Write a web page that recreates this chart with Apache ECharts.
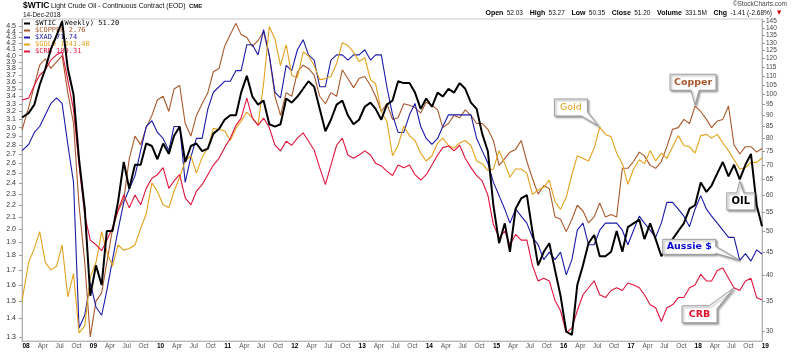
<!DOCTYPE html>
<html><head><meta charset="utf-8">
<script src="https://cdn.jsdelivr.net/npm/echarts@6/dist/echarts.min.js"></script>
<style>html,body{margin:0;padding:0;background:#fff}#c{width:800px;height:352px}</style>
</head><body><div id="c"></div>
<script>
const dates = ['2007-12-10',
'2008-01-15','2008-02-15','2008-03-15','2008-04-15','2008-05-15','2008-06-15','2008-07-15','2008-08-15','2008-09-15','2008-10-15','2008-11-15','2008-12-15',
'2009-01-15','2009-02-15','2009-03-15','2009-04-15','2009-05-15','2009-06-15','2009-07-15','2009-08-15','2009-09-15','2009-10-15','2009-11-15','2009-12-15',
'2010-01-15','2010-02-15','2010-03-15','2010-04-15','2010-05-15','2010-06-15','2010-07-15','2010-08-15','2010-09-15','2010-10-15','2010-11-15','2010-12-15',
'2011-01-15','2011-02-15','2011-03-15','2011-04-15','2011-05-15','2011-06-15','2011-07-15','2011-08-15','2011-09-15','2011-10-15','2011-11-15','2011-12-15',
'2012-01-15','2012-02-15','2012-03-15','2012-04-15','2012-05-15','2012-06-15','2012-07-15','2012-08-15','2012-09-15','2012-10-15','2012-11-15','2012-12-15',
'2013-01-15','2013-02-15','2013-03-15','2013-04-15','2013-05-15','2013-06-15','2013-07-15','2013-08-15','2013-09-15','2013-10-15','2013-11-15','2013-12-15',
'2014-01-15','2014-02-15','2014-03-15','2014-04-15','2014-05-15','2014-06-15','2014-07-15','2014-08-15','2014-09-15','2014-10-15','2014-11-15','2014-12-15',
'2015-01-15','2015-02-15','2015-03-15','2015-04-15','2015-05-15','2015-06-15','2015-07-15','2015-08-15','2015-09-15','2015-10-15','2015-11-15','2015-12-15',
'2016-01-15','2016-02-15','2016-03-15','2016-04-15','2016-05-15','2016-06-15','2016-07-15','2016-08-15','2016-09-15','2016-10-15','2016-11-15','2016-12-15',
'2017-01-15','2017-02-15','2017-03-15','2017-04-15','2017-05-15','2017-06-15','2017-07-15','2017-08-15','2017-09-15','2017-10-15','2017-11-15','2017-12-15',
'2018-01-15','2018-02-15','2018-03-15','2018-04-15','2018-05-15','2018-06-15','2018-07-15','2018-08-15','2018-09-15','2018-10-15','2018-11-15','2018-12-14'];

const wtic = [89,
 91,95,105,114,126,135,145,114,100,72,56,36,
 42,38,50,50,58,71,62,70,70,78,77,72,
 78,74,81,85,71,77,78,75,76,82,84,88,
 90,90,101,110,99,95,97,86,85,86,98,96,
 99,103,107,104,93,83,88,95,97,90,86,88,
 94,96,93,88,95,97,107,106,106,101,93,98,
 94,101,99,103,101,106,103,96,93,82,75,57,
 47,52,45,56,59,60,50,42,45,47,41,36,
 30,29.5,38,42,47,49,44,44,45,50,45,51,
 52,53,48,52,48,44,46,48,50,52,56,57,
 64,61,63,67,71,66,70,65,70,74,57,51.2];

const copper = [2.97,
 3.25,3.55,3.85,3.95,3.80,3.90,4.00,3.45,3.05,2.20,1.75,1.30,
 1.50,1.55,1.75,2.00,2.15,2.25,2.65,2.90,2.80,3.00,3.15,3.35,
 3.40,3.20,3.50,3.55,3.05,2.90,3.15,3.30,3.45,3.75,3.80,4.15,
 4.35,4.55,4.35,4.30,4.15,4.25,4.40,4.00,3.40,3.15,3.45,3.40,
 3.75,3.85,3.80,3.70,3.40,3.30,3.45,3.40,3.78,3.65,3.52,3.65,
 3.68,3.55,3.40,3.20,3.30,3.10,3.12,3.30,3.28,3.25,3.18,3.32,
 3.28,3.22,3.00,3.05,3.15,3.12,3.22,3.15,3.05,3.05,2.98,2.85,
 2.58,2.65,2.72,2.75,2.85,2.62,2.45,2.30,2.38,2.35,2.10,2.08,
 1.98,2.08,2.20,2.15,2.05,2.10,2.22,2.10,2.12,2.10,2.55,2.55,
 2.62,2.72,2.68,2.58,2.55,2.62,2.78,2.98,3.00,3.10,3.05,3.27,
 3.20,3.10,3.00,3.08,3.10,3.27,2.80,2.70,2.78,2.78,2.72,2.76];

const xad = [87,
 88,90,91,93,95,96,95,88,82,62.5,64,68,
 65,64,67,71,75,79,81,83,87,91,92,90,
 89,87,91,91,82,86,89,89,94,97,98,99,
 99,101,101,106,106,104,109,104,97,96,102,101,
 105,107,104,103,98,98,103,104,104,103,104,104,
 105,103,104,104,98,93,90,90,93,95,91,89,
 88,89,91,93,93,93,93,93,89,87,85,82,
 80,78,76,78,77,76,74,73,71,72,71,72,
 69,71,75,76,73,73,75,76,76,76,75,73,
 75,77,76,75,74,76,79,79,78,77,75.5,78,
 80,78,77,76,75,74,74,70.9,71.8,70.8,72.3,71.74];

const gold = [800,
 900,940,990,900,880,890,950,810,870,725,740,860,
 900,990,930,890,950,935,940,950,1000,1045,1150,1120,
 1075,1065,1120,1170,1230,1250,1185,1245,1280,1360,1355,1350,
 1310,1360,1390,1430,1405,1375,1560,1860,1790,1650,1760,1600,
 1590,1720,1700,1650,1580,1585,1595,1660,1770,1755,1720,1670,
 1690,1580,1560,1430,1390,1250,1290,1370,1330,1310,1260,1230,
 1250,1300,1320,1290,1280,1300,1310,1290,1230,1220,1195,1200,
 1270,1220,1170,1200,1200,1185,1110,1125,1135,1160,1085,1060,
 1100,1180,1250,1240,1230,1280,1365,1335,1325,1260,1220,1145,
 1200,1235,1220,1270,1230,1260,1240,1285,1330,1290,1285,1260,
 1330,1335,1320,1335,1300,1270,1235,1200,1205,1225,1225,1241.4];

const crb = [389,
 392,412,428,437,454,463,468,420,375,303,250,227,
 223,218,227,238,255,270,257,270,260,277,288,292,
 300,277,285,292,267,260,274,281,292,303,311,324,
 336,353,363,392,363,353,363,350,327,320,332,327,
 336,343,332,321,300,281,303,327,336,315,311,315,
 320,315,305,302,296,291,303,300,303,292,286,292,
 303,315,324,326,320,327,311,300,291,285,270,241,
 229,235,223,232,227,227,206,194,196,194,180,173,
 159,162,173,184,189,194,184,182,187,189,187,192.5,
 191,189,184,177,175,166,175,177,182,182,189,191,
 199,194,194,202,204,196,189,187,194,196,182,180.31];

const leftTicks = [1.3,1.4,1.5,1.6,1.7,1.8,1.9,2.0,2.1,2.2,2.3,2.4,2.5,2.6,2.7,2.8,2.9,3.0,3.1,3.2,3.3,3.4,3.5,3.6,3.7,3.8,3.9,4.0,4.1,4.2,4.3,4.4,4.5,4.6];
const rightTicks = [30,35,40,45,50,55,60,65,70,75,80,85,90,95,100,105,110,115,120,125,130,135,140,145];
const xTicks = [
'2008-01-01','2008-04-01','2008-07-01','2008-10-01','2009-01-01','2009-04-01','2009-07-01','2009-10-01',
'2010-01-01','2010-04-01','2010-07-01','2010-10-01','2011-01-01','2011-04-01','2011-07-01','2011-10-01',
'2012-01-01','2012-04-01','2012-07-01','2012-10-01','2013-01-01','2013-04-01','2013-07-01','2013-10-01',
'2014-01-01','2014-04-01','2014-07-01','2014-10-01','2015-01-01','2015-04-01','2015-07-01','2015-10-01',
'2016-01-01','2016-04-01','2016-07-01','2016-10-01','2017-01-01','2017-04-01','2017-07-01','2017-10-01',
'2018-01-01','2018-04-01','2018-07-01','2018-10-01'];
const lastXTick = '2019-01-01';

const FONT = '"Liberation Sans", Arial, sans-serif';
const C = {wtic:'#000000', copper:'#a9582c', xad:'#1a1aa8', gold:'#e2a21c', crb:'#e0143c'};
const names = ['$WTIC (Weekly)','$COPPER','$XAD','$GOLD','$CRB'];
const colorsByName = {'$WTIC (Weekly)':C.wtic,'$COPPER':C.copper,'$XAD':C.xad,'$GOLD':C.gold,'$CRB':C.crb};
const lastVals = {
  '$WTIC (Weekly)': wtic[wtic.length-1].toFixed(2),
  '$COPPER': copper[copper.length-1].toFixed(2),
  '$XAD': xad[xad.length-1].toFixed(2),
  '$GOLD': gold[gold.length-1].toFixed(2),
  '$CRB': crb[crb.length-1].toFixed(2)
};
const ts = s => Date.parse(s);
const pairs = arr => dates.map((d,i)=>[ts(d), arr[i]]);
const monthAbbr = ['','','','Apr','','','Jul','','','Oct','',''];

const chart = echarts.init(document.getElementById('c'), null, {renderer:'canvas', width:800, height:352});

function lineSeries(name, arr, yIdx, color, width, z){
  return {type:'line', name, yAxisIndex:yIdx, data:pairs(arr), showSymbol:false, symbol:'none',
    lineStyle:{color, width}, itemStyle:{color}, emphasis:{disabled:true}, z, silent:true};
}

const option = {
  animation:false,
  backgroundColor:'#ffffff',
  grid:{left:22, right:38, top:19, bottom:11, show:true, borderColor:'#c8c8c8', borderWidth:1, outerBoundsMode:'none', containLabel:false},
  legend:{
    show:true, orient:'vertical', left:22, top:19, padding:[1,2,1,2], itemGap:0, itemWidth:6, itemHeight:2,
    icon:'rect', selectedMode:false,
    textStyle:{fontFamily:'"DejaVu Sans Mono", monospace', fontSize:7, lineHeight:6.4},
    formatter: n => n + ' ' + lastVals[n],
    data: names.map(n => ({name:n, itemStyle:{color:colorsByName[n]}, textStyle:{color:colorsByName[n]}}))
  },
  xAxis:{
    type:'value', min:ts(dates[0]), max:ts(dates[dates.length-1]), scale:true,
    axisLine:{show:true, lineStyle:{color:'#b8b8b8', width:1}},
    axisTick:{show:false}, splitLine:{show:false},
    axisLabel:{
      customValues:xTicks.map(ts), hideOverlap:false, margin:2,
      fontFamily:FONT, fontSize:6.5, color:'#555',
      formatter:function(v){
        const d = new Date(+v); const m = d.getUTCMonth();
        if (m === 0) return '{y|' + String(d.getUTCFullYear()).slice(2) + '}';
        return monthAbbr[m];
      },
      rich:{y:{fontFamily:FONT, fontSize:6.5, fontWeight:'bold', color:'#000'}}
    }
  },
  yAxis:[
    {type:'log', position:'left', min:1.279, max:4.63,
     axisLine:{show:true, lineStyle:{color:'#b0b0b0'}},
     axisTick:{show:true, customValues:leftTicks, length:3, lineStyle:{color:'#999'}},
     axisLabel:{customValues:leftTicks, hideOverlap:false, margin:6, fontFamily:FONT, fontSize:7, color:'#333',
       formatter:v => (+v).toFixed(1)},
     splitLine:{show:false}},
    {type:'log', position:'right', min:28.6, max:146.8,
     axisLine:{show:true, lineStyle:{color:'#b0b0b0'}},
     axisTick:{show:true, customValues:rightTicks, length:3, lineStyle:{color:'#999'}},
     axisLabel:{customValues:rightTicks, hideOverlap:false, margin:4, fontFamily:FONT, fontSize:6.5, color:'#444',
       formatter:v => String(Math.round(+v))},
     splitLine:{show:false}},
    {type:'log', show:false, min:61.0, max:111.2, splitLine:{show:false}},
    {type:'log', show:false, min:707, max:1904, splitLine:{show:false}},
    {type:'log', show:false, min:154.0, max:531.4, splitLine:{show:false}}
  ],
  series:[
    lineSeries('$COPPER', copper, 0, C.copper, 1.1, 2),
    lineSeries('$XAD', xad, 2, C.xad, 1.1, 3),
    lineSeries('$GOLD', gold, 3, C.gold, 1.1, 4),
    lineSeries('$CRB', crb, 4, C.crb, 1.1, 5),
    lineSeries('$WTIC (Weekly)', wtic, 1, C.wtic, 2, 6)
  ]
};
chart.setOption(option);

function callout(seriesIndex, date, value, outline, box, text, color, font){
  const p = chart.convertToPixel({seriesIndex}, [ts(date), value]);
  const tx = p[0], ty = p[1];
  return [
    {type:'polygon', z:100, shape:{points: outline.map(q => [tx+q[0], ty+q[1]])},
     style:{fill:'#ffffff', stroke:'#9c9c9c', lineWidth:1, shadowBlur:2, shadowOffsetX:1.5, shadowOffsetY:1.5, shadowColor:'rgba(0,0,0,0.35)'}},
    {type:'text', z:101, x: tx+box[0]+box[2]/2, y: ty+box[1]+box[3]/2,
     style:{text, font, fill:color, align:'center', verticalAlign:'middle'}}
  ];
}
const BF = '"DejaVu Sans", sans-serif';
let g = [];
try {
g = g.concat(callout(0, '2017-12-15', 3.28,
  [[-25,-31],[21,-31],[21,-15],[4,-15],[0,0],[-4,-15],[-25,-15]], [-25,-31,46,16], 'Copper', C.copper, 'bold 9.5px ' + BF));
g = g.concat(callout(2, '2016-07-08', 1370,
  [[-44,-27],[-11,-27],[-11,-14],[0,0],[-17,-10],[-44,-10]], [-44,-27,33,17], 'Gold', C.gold, '9.5px ' + BF));
g = g.concat(callout(4, '2018-08-15', 64.5,
  [[-13,12],[-3,12],[0,0],[4,12],[15,12],[15,29],[-13,29]], [-13,12,28,17], 'OIL', '#000', 'bold 10px ' + BF));
g = g.concat(callout(1, '2018-08-15', 70.9,
  [[-77,-21],[-24,-21],[-24,-14],[0,0],[-24,-7],[-24,-6],[-77,-6]], [-77,-21,53,15], 'Aussie $', '#0b0bd0', 'bold 9.5px ' + BF));
g = g.concat(callout(3, '2018-07-15', 189,
  [[-52,18],[-25,18],[0,0],[-17,21],[-17,35],[-52,35]], [-52,18,35,17], 'CRB', '#e0102c', 'bold 9.5px ' + BF));
const x19 = chart.convertToPixel({xAxisIndex:0}, ts(lastXTick));
const yBottom = chart.convertToPixel({yAxisIndex:0}, 1.279);
g.push({type:'text', x:x19, y:yBottom+2, style:{text:String(new Date(ts(lastXTick)).getUTCFullYear()).slice(2), font:'bold 6.5px ' + FONT, fill:'#000', align:'center', verticalAlign:'top'}});
} catch(e) { console.error(e); }

g.push({type:'text', x:23, y:1, style:{text:'$WTIC', font:'bold 8.5px ' + FONT, fill:'#000'}});
g.push({type:'text', x:51, y:2.8, style:{text:'Light Crude Oil - Continuous Contract (EOD)', font:'6.8px ' + FONT, fill:'#111'}});
g.push({type:'text', x:189, y:3.6, style:{text:'CME', font:'bold 6px ' + FONT, fill:'#111'}});
g.push({type:'text', x:23, y:11.6, style:{text:'14-Dec-2018', font:'6.5px ' + FONT, fill:'#111'}});
g.push({type:'text', x:787, y:1, style:{text:'\u00A9StockCharts.com', font:'6.5px ' + FONT, fill:'#444', align:'right'}});
g.push({type:'text', x:772, y:12.8, style:{
  text:'{l|Open} {v|52.03}  {l|High} {v|53.27}  {l|Low} {v|50.35}  {l|Close} {v|51.20}  {l|Volume} {v|331.5M}  {l|Chg} {v|-1.41 (-2.68%)}',
  align:'right', verticalAlign:'middle',
  rich:{l:{font:'bold 7px ' + FONT, fill:'#000'}, v:{font:'6.5px ' + FONT, fill:'#111'}}}});
g.push({type:'text', x:777, y:12.8, style:{text:'\u25BC', font:'5.5px "DejaVu Sans"', fill:'#d00000', verticalAlign:'middle'}});

chart.setOption({graphic:g});
</script>
</body></html>
